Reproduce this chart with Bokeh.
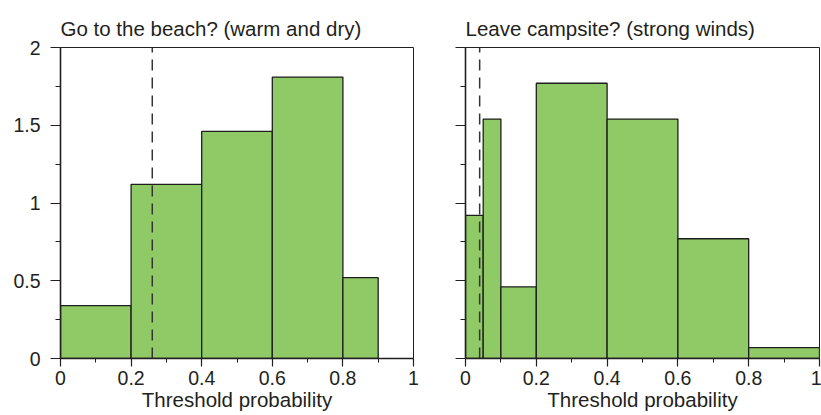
from bokeh.plotting import figure
from bokeh.layouts import row
from bokeh.models import Range1d, FixedTicker
from bokeh.embed import file_html
from bokeh.resources import INLINE

# ---- data ----
beach_left = [0.0, 0.2, 0.4, 0.6, 0.8]
beach_right = [0.2, 0.4, 0.6, 0.8, 0.9]
beach_density = [0.34, 1.12, 1.46, 1.81, 0.52]
beach_threshold = 0.26

camp_left = [0.0, 0.05, 0.1, 0.2, 0.4, 0.6, 0.8]
camp_right = [0.05, 0.1, 0.2, 0.4, 0.6, 0.8, 1.0]
camp_density = [0.92, 1.54, 0.46, 1.77, 1.54, 0.77, 0.07]
camp_threshold = 0.04

x_ticks = [0, 0.2, 0.4, 0.6, 0.8, 1]
x_tick_labels = ["0", "0.2", "0.4", "0.6", "0.8", "1"]
x_minor = [0.1, 0.3, 0.5, 0.7, 0.9]
y_ticks = [0, 0.5, 1, 1.5, 2]
y_tick_labels = ["0", "0.5", "1", "1.5", "2"]
y_minor = [0.25, 0.75, 1.25, 1.75]

titles = ["Go to the beach? (warm and dry)", "Leave campsite? (strong winds)"]
x_label = "Threshold probability"

FONT = "Liberation Sans"
TXT = "#231f20"
GREEN = "#90ca66"
EDGE = "#1e1e1e"


def make_panel(title, lefts, rights, dens, thr, show_ylabels, width, border_left, border_right):
    p = figure(width=width, height=415, output_backend="svg", toolbar_location=None,
               x_range=Range1d(0, 1), y_range=Range1d(0, 2),
               min_border_left=border_left, min_border_right=border_right,
               min_border_top=47, min_border_bottom=57)
    p.title.text = title
    p.title.text_font = FONT
    p.title.text_font_size = "20.5px"
    p.title.text_font_style = "normal"
    p.title.text_color = TXT
    p.title.align = "left"
    p.title.offset = 0
    p.title.standoff = 16

    p.grid.visible = False
    p.background_fill_color = "white"
    p.border_fill_color = "white"
    p.outline_line_color = TXT
    p.outline_line_width = 1
    p.outline_line_alpha = 1

    p.quad(left=lefts, right=rights, top=dens, bottom=0,
           fill_color=GREEN, line_color=EDGE, line_width=1.3)
    p.segment(x0=[thr], x1=[thr], y0=[0], y1=[2], line_color="#333333",
              line_width=1.5, line_dash="11 7")

    p.xaxis.ticker = FixedTicker(ticks=x_ticks, minor_ticks=x_minor)
    p.xaxis.major_label_overrides = dict(zip(x_ticks, x_tick_labels))
    p.yaxis.ticker = FixedTicker(ticks=y_ticks, minor_ticks=y_minor)
    p.yaxis.major_label_overrides = dict(zip(y_ticks, y_tick_labels))

    for ax in (p.xaxis[0], p.yaxis[0]):
        ax.axis_line_color = TXT
        ax.axis_line_width = 1.6
        ax.major_tick_line_color = TXT
        ax.minor_tick_line_color = TXT
        ax.major_tick_line_width = 1.2
        ax.minor_tick_line_width = 1
        ax.major_tick_in = 0
        ax.minor_tick_in = 0
        ax.major_label_text_font = FONT
        ax.major_label_text_font_size = "19.5px"
        ax.major_label_text_color = TXT
    p.xaxis.major_tick_out = 8
    p.xaxis.minor_tick_out = 4
    p.yaxis.major_tick_out = 10
    p.yaxis.minor_tick_out = 5
    p.xaxis.major_label_standoff = 4
    p.yaxis.major_label_standoff = 10

    p.xaxis.axis_label = x_label
    p.xaxis.axis_label_text_font = FONT
    p.xaxis.axis_label_text_font_size = "20.5px"
    p.xaxis.axis_label_text_font_style = "normal"
    p.xaxis.axis_label_text_color = TXT
    p.xaxis.axis_label_standoff = 0

    if not show_ylabels:
        p.yaxis.major_label_text_color = None
    return p


p1 = make_panel(titles[0], beach_left, beach_right, beach_density, beach_threshold,
                True, 420, 60, 7)
p2 = make_panel(titles[1], camp_left, camp_right, camp_density, camp_threshold,
                False, 401, 45, 2)

layout = row(p1, p2)
open("out.html", "w").write(file_html(layout, INLINE))
